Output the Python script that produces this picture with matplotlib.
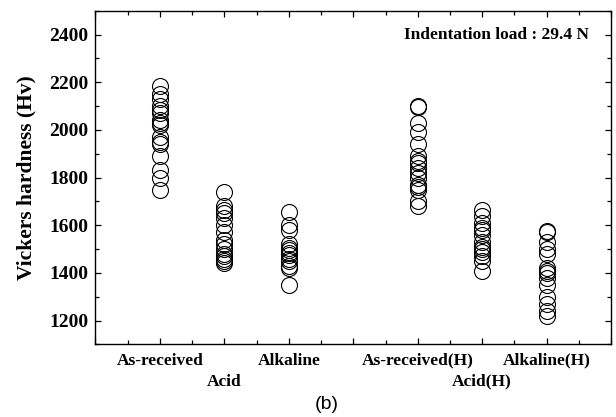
import matplotlib
matplotlib.use("Agg")
import matplotlib.pyplot as plt
import numpy as np

# sample groups, x position of each group and the hardness values (Hv)
groups = ["As-received", "Acid", "Alkaline", "As-received(H)", "Acid(H)", "Alkaline(H)"]
positions = [1, 2, 3, 5, 6, 7]

as_received = [2185, 2150, 2130, 2100, 2085, 2070, 2040, 2030, 2020, 1970, 1950, 1940, 1890, 1830, 1800, 1750]
acid = [1740, 1680, 1665, 1650, 1630, 1600, 1570, 1540, 1520, 1500, 1480, 1470, 1460, 1450, 1440]
alkaline = [1655, 1600, 1580, 1520, 1505, 1495, 1485, 1475, 1460, 1450, 1430, 1420, 1350]
as_received_h = [2100, 2095, 2030, 1990, 1940, 1890, 1870, 1860, 1840, 1820, 1800, 1770, 1760, 1750, 1700, 1680]
acid_h = [1665, 1640, 1610, 1590, 1580, 1560, 1530, 1510, 1500, 1490, 1470, 1450, 1410]
alkaline_h = [1575, 1570, 1530, 1500, 1480, 1420, 1410, 1400, 1380, 1350, 1300, 1270, 1240, 1220]

all_values = [as_received, acid, alkaline, as_received_h, acid_h, alkaline_h]

serif = ["Liberation Serif", "DejaVu Serif"]

fig = plt.figure(figsize=(6.16, 4.17), dpi=100)
ax = fig.add_axes([0.155, 0.174, 0.837, 0.80])

for pos, vals in zip(positions, all_values):
    ax.plot(np.full(len(vals), pos), vals, 'o', markersize=11.5,
            markerfacecolor='none', markeredgecolor='black', markeredgewidth=0.8)

ax.set_xlim(0, 8)
ax.set_ylim(1100, 2500)

ax.set_xticks(range(0, 9))
labels = [""] * 9
for pos, g in zip(positions, groups):
    if not g.startswith("Acid"):
        labels[pos] = g
ax.set_xticklabels(labels, fontfamily=serif, fontweight="bold", fontsize=12.5)
ax.set_xticks(np.arange(0.5, 8, 1), minor=True)

# the "Acid" labels sit on a second row below the others
for pos, g in zip(positions, groups):
    if g.startswith("Acid"):
        ax.annotate(g, xy=(pos, 0), xycoords=("data", "axes fraction"),
                    xytext=(0, -21), textcoords="offset points", ha="center", va="top",
                    fontfamily=serif, fontweight="bold", fontsize=12.5)

ax.set_yticks(range(1200, 2500, 200))
ax.set_yticks(range(1100, 2501, 100), minor=True)
for t in ax.get_yticklabels():
    t.set_fontfamily(serif)
    t.set_fontweight("bold")
    t.set_fontsize(14)

ax.tick_params(which="both", direction="in", top=True, right=True, width=0.9)
ax.tick_params(which="major", length=4.5)
ax.tick_params(which="minor", length=3)
ax.tick_params(axis="y", pad=5)
ax.tick_params(axis="x", pad=6)

for s in ax.spines.values():
    s.set_linewidth(1.0)

ax.set_ylabel("Vickers hardness (Hv)", fontfamily=serif, fontweight="bold", fontsize=15.5, labelpad=9)

ax.text(0.957, 0.929, "Indentation load : 29.4 N", transform=ax.transAxes,
        ha="right", va="center", fontfamily=serif, fontweight="bold", fontsize=12.5)

fig.text(0.53, 0.03, "(b)", ha="center", va="center", fontfamily="Liberation Sans", fontsize=14)

fig.savefig("out.png", dpi=100)
